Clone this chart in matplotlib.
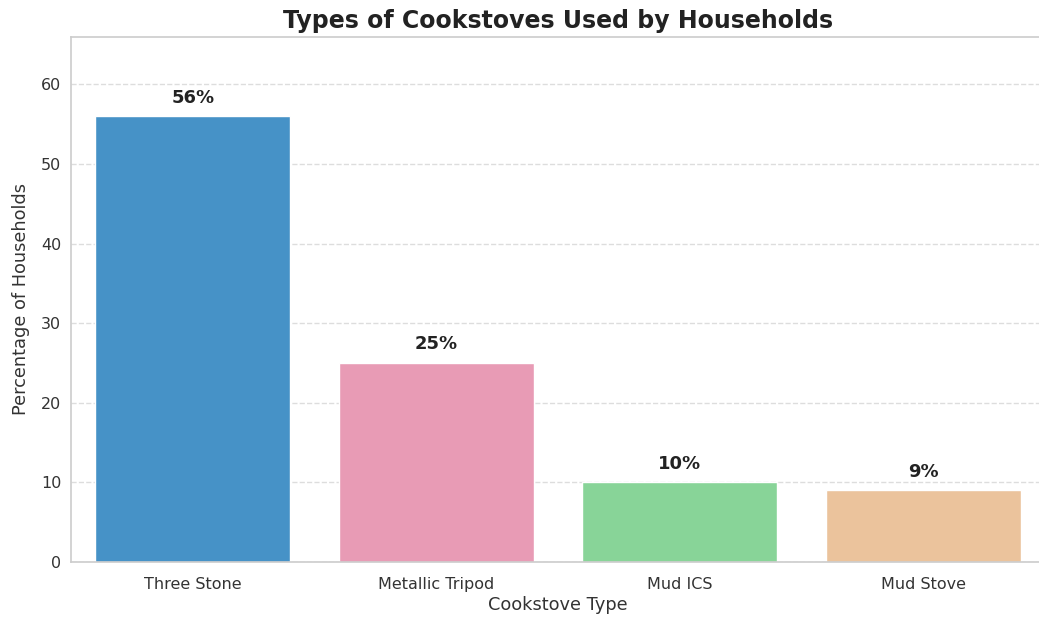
import matplotlib
matplotlib.use("Agg")
import matplotlib.pyplot as plt
import seaborn as sns

# Data
stove_types = ["Three Stone", "Metallic Tripod", "Mud ICS", "Mud Stove"]
household_pct = [56, 25, 10, 9]
bar_colors = ["#4692c7", "#e89bb5", "#88d498", "#ebc39c"]

sns.set_style("whitegrid")
plt.rcParams["font.family"] = ["DejaVu Sans"]

fig = plt.figure(figsize=(10.39, 6.18), dpi=100)
# axes runs a little past the right edge of the figure (reference is cropped there)
ax = fig.add_axes([0.0683, 0.0906, 0.951, 0.850])

x = range(len(stove_types))
bars = ax.bar(x, household_pct, width=0.8, color=bar_colors, zorder=2)

# Value labels above bars
for rect, val in zip(bars, household_pct):
    ax.text(rect.get_x() + rect.get_width() / 2, val + 1.2, f"{val}%",
            ha="center", va="bottom", fontsize=13, fontweight="bold", color="#222222")

ax.set_xlim(-0.5, 3.557)
ax.set_ylim(0, 66)
ax.set_xticks(list(x))
ax.set_xticklabels(stove_types, fontsize=11.5, color="#333333")
ax.tick_params(axis="x", pad=7)
ax.tick_params(axis="y", labelsize=11.5, labelcolor="#333333")

ax.grid(axis="y", linestyle="--", color="#dddddd", linewidth=1, zorder=0)
ax.grid(axis="x", visible=False)
for sp in ax.spines.values():
    sp.set_color("#cccccc")
    sp.set_linewidth(1.2)
ax.spines["right"].set_visible(False)

ax.set_xlabel("Cookstove Type", fontsize=12.8, color="#333333", labelpad=4)
ax.xaxis.set_label_coords(0.493, -0.065)
ax.set_ylabel("Percentage of Households", fontsize=12.8, color="#333333", labelpad=8)
ax.set_title("Types of Cookstoves Used by Households", fontsize=17, fontweight="bold",
             color="#222222", pad=6, x=0.493)

fig.savefig("out.png", dpi=100)
